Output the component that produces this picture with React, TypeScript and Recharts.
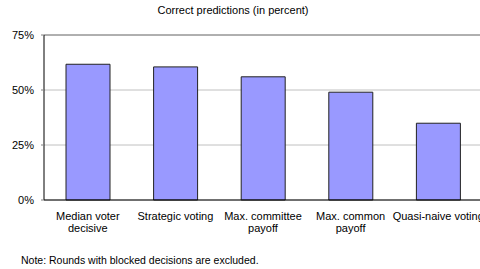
import { BarChart, Bar, XAxis, YAxis, CartesianGrid, ReferenceLine } from 'recharts';

const categories = [
  'Median voter\ndecisive',
  'Strategic voting',
  'Max. committee\npayoff',
  'Max. common\npayoff',
  'Quasi-naive voting',
];
const correctPct = [61.7, 60.5, 56.0, 49.0, 34.9];
const yTicks = [0, 25, 50, 75];

const data = categories.map((name, i) => ({ name, value: correctPct[i] }));

const FONT = 'Arial, "Liberation Sans", sans-serif';

// split the category label into lines
function CategoryTick(props: any) {
  const { x, y, payload } = props;
  const lines = String(payload.value).split('\n');
  return (
    <g transform={`translate(${x},${y})`}>
      {lines.map((line: string, i: number) => (
        <text key={i} x={0} y={12 + i * 12} textAnchor="middle" fontSize={11} fill="#000" fontFamily={FONT}>
          {line}
        </text>
      ))}
    </g>
  );
}

export default function App() {
  return (
    <div style={{ position: 'absolute', left: 0, top: 0, width: 480, height: 269, overflow: 'hidden', background: '#fff' }}>
      <div style={{ position: 'absolute', left: 0, top: 4, width: 466, textAlign: 'center', fontSize: 11, fontFamily: FONT }}>
        Correct predictions (in percent)
      </div>
      <BarChart
        width={490}
        height={269}
        data={data}
        margin={{ top: 35, right: 8, bottom: 0, left: 0 }}
        barSize={44}
      >
        <CartesianGrid vertical={false} stroke="#c0c0c0" />
        <ReferenceLine y={75} stroke="#808080" />
        <XAxis
          dataKey="name"
          interval={0}
          height={69}
          axisLine={{ stroke: '#000' }}
          tickLine={false}
          tick={<CategoryTick />}
        />
        <YAxis
          width={44}
          domain={[0, 75]}
          ticks={yTicks}
          tickFormatter={(v: number) => `${v}%`}
          axisLine={{ stroke: '#000' }}
          tickLine={{ stroke: '#808080' }}
          tickSize={3}
          tickMargin={7}
          tick={{ fontSize: 11, fill: '#000', fontFamily: FONT }}
        />
        <Bar dataKey="value" fill="#9999ff" stroke="#222" strokeWidth={1} isAnimationActive={false} />
      </BarChart>
      <div style={{ position: 'absolute', left: 21, top: 254, fontSize: 10.5, fontFamily: FONT }}>
        Note: Rounds with blocked decisions are excluded.
      </div>
    </div>
  );
}
